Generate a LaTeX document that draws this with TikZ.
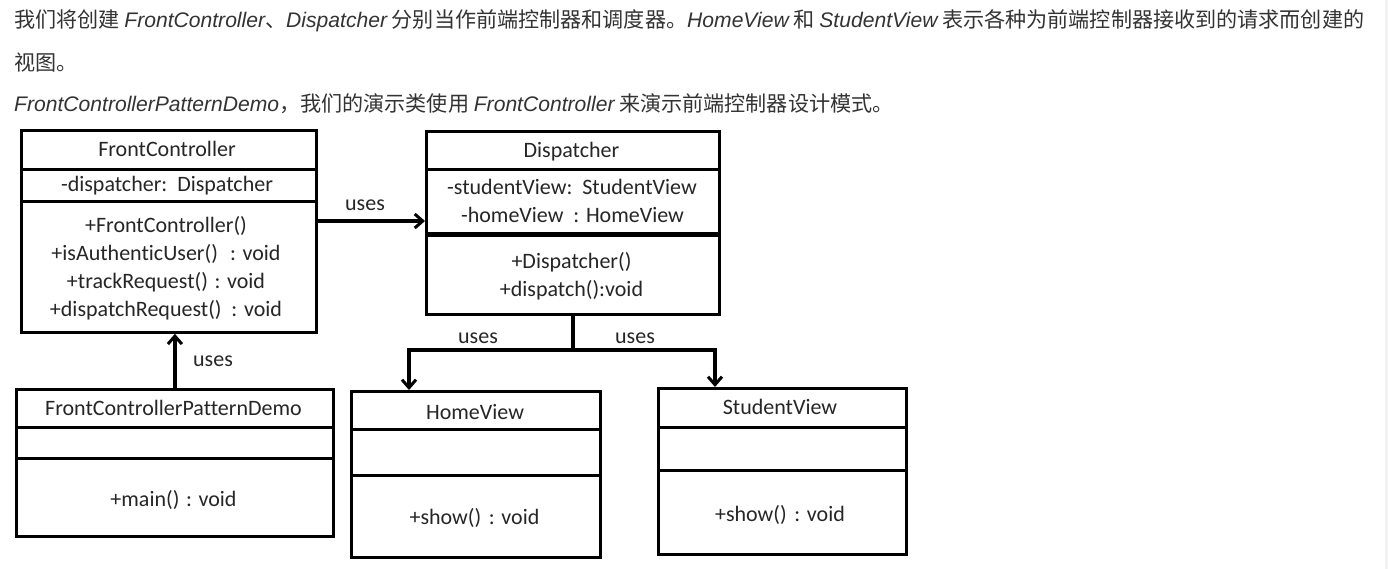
\documentclass[tikz,border=0pt]{standalone}
\usepackage{fontspec}
\setmainfont{Carlito}[Ligatures=NoCommon]
\newfontfamily\cjkfont{Noto Sans CJK SC}
\newfontfamily\latfont{Liberation Sans}
\usetikzlibrary{arrows.meta}
\definecolor{toptext}{HTML}{333333}
\definecolor{dtext}{HTML}{262626}
\definecolor{strip}{HTML}{F2F2F2}
\newcommand{\zhtxt}[1]{{\cjkfont #1}}
\newcommand{\entxt}[1]{{\latfont\itshape #1}}
\begin{document}
\begin{tikzpicture}[x=1pt,y=-1pt,
  sect/.style={draw=black, line width=2.8pt, inner sep=0pt, anchor=north west, fill=white},
  dline/.style={line width=3.6pt},
  lbl/.style={anchor=base, inner sep=0pt, text=dtext, font=\fontsize{22}{27.7}\selectfont},
  para/.style={anchor=base west, inner sep=0pt, text=toptext, font=\fontsize{21.1}{24}\selectfont},
  conn/.style={draw=black, line width=3.4pt},
  arr/.style={draw=black, line width=3.4pt, -{Straight Barb[length=8pt,width=14pt,line width=3pt]}}
]
\useasboundingbox (0,0) rectangle (1388,569);
\fill[white] (0,0) rectangle (1388,569);
\fill[strip] (1385,0) rectangle (1388,569);

% top text
\node[para] (l1) at (14,28) {\zhtxt{我们将创建 }\entxt{FrontController}\zhtxt{、}\entxt{Dispatcher}\zhtxt{ 分别当作前端控制器和调度器。}\entxt{HomeView}\zhtxt{ 和 }\entxt{StudentView}\zhtxt{ 表示各种为前端控制器接收到的请求而创建的}};
\node[para] (l2) at (14,71) {\zhtxt{视图。}};
\node[para] (l3) at (14,112) {\entxt{FrontControllerPatternDemo}\zhtxt{，我们的演示类使用 }\entxt{FrontController}\zhtxt{ 来演示前端控制器设计模式。}};

% FrontController
\node[sect, minimum width=295pt, minimum height=39pt] (fct) at (20,129) {};
\node[sect, minimum width=295pt, minimum height=32pt] (fca) at (20,168) {};
\node[sect, minimum width=295pt, minimum height=131pt] (fcm) at (20,200) {};
\node[lbl] (fct1) at (167,157) {FrontController};
\node[lbl] (fca1) at (167,192) {-dispatcher:\ \ Dispatcher};
\node[lbl] (fcm1) at (166,233) {+FrontController()};
\node[lbl] (fcm2) at (166,260) {+isAuthenticUser()\hspace{0.55em}: void};
\node[lbl] (fcm3) at (166,288) {+trackRequest()\hspace{0.3em}: void};
\node[lbl] (fcm4) at (166,316) {+dispatchRequest()\hspace{0.45em}: void};

% Dispatcher
\node[sect, minimum width=293pt, minimum height=38pt] (dst) at (425,130) {};
\node[sect, minimum width=293pt, minimum height=66pt] (dsa) at (425,168) {};
\node[sect, minimum width=293pt, minimum height=79pt] (dsm) at (425,234) {};
\draw[dline] (dsm.north west) -- (dsm.north east);
\node[lbl] (dst1) at (571.5,158) {Dispatcher};
\node[lbl] (dsa1) at (572,195) {-studentView:\ \ StudentView};
\node[lbl] (dsa2) at (572.5,223) {-homeView\ \ : HomeView};
\node[lbl] (dsm1) at (571.5,269) {+Dispatcher()};
\node[lbl] (dsm2) at (571.5,296) {+dispatch():void};

% FrontControllerPatternDemo
\node[sect, minimum width=317pt, minimum height=38pt] (dmt) at (15,388) {};
\node[sect, minimum width=317pt, minimum height=31pt] (dma) at (15,426) {};
\node[sect, minimum width=317pt, minimum height=78pt] (dmm) at (15,457) {};
\node[lbl] (dmt1) at (173.5,415) {FrontControllerPatternDemo};
\node[lbl] (dmm1) at (173.5,506) {+main()\hspace{0.3em}: void};

% HomeView
\node[sect, minimum width=249pt, minimum height=38pt] (hvt) at (350,390) {};
\node[sect, minimum width=249pt, minimum height=46pt] (hva) at (350,428) {};
\node[sect, minimum width=249pt, minimum height=82pt] (hvm) at (350,474) {};
\node[lbl] (hvt1) at (475,419) {HomeView};
\node[lbl] (hvm1) at (474.5,524) {+show()\hspace{0.35em}: void};

% StudentView
\node[sect, minimum width=248pt, minimum height=39pt] (svt) at (657,387) {};
\node[sect, minimum width=248pt, minimum height=43pt] (sva) at (657,426) {};
\node[sect, minimum width=248pt, minimum height=84pt] (svm) at (657,469) {};
\node[lbl] (svt1) at (780,414) {StudentView};
\node[lbl] (svm1) at (780,521) {+show()\hspace{0.35em}: void};

% connectors
\coordinate (yfd) at (0,221);
\draw[arr] (fcm.east |- yfd) -- (dsa.west |- yfd);
\node[lbl] (u1) at (365,211) {uses};

\draw[arr] (dmt.north) -- (dmt.north |- fcm.south);
\node[lbl] (u2) at (213,366) {uses};

\coordinate (junc) at (573,350);
\coordinate (hvin) at (409,390);
\coordinate (svin) at (715,387);
\draw[conn] (dsm.south -| junc) -- (junc);
\draw[arr] (junc) -| (hvin |- hvt.north);
\draw[arr] (junc) -| (svin |- svt.north);
\node[lbl] (u3) at (478,343) {uses};
\node[lbl] (u4) at (635,343) {uses};
\end{tikzpicture}
\end{document}
